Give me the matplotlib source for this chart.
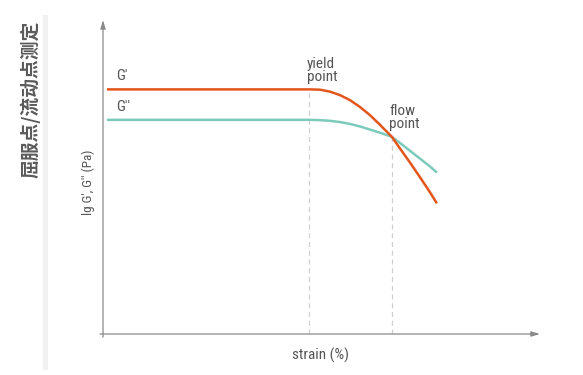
import matplotlib
matplotlib.use("Agg")
import matplotlib.pyplot as plt
from matplotlib.patches import Rectangle

# strain axis runs 0..100, modulus axis 0..100 (arbitrary log units)
strain_g1 = [0.9, 40.5, 47.4, 49.7, 51.9, 54.2, 56.5, 58.8, 61.1, 63.4, 66.1,
             68.0, 70.3, 72.5, 74.8, 76.4]
g_storage = [77.9, 77.9, 77.9, 77.8, 77.2, 76.1, 74.5, 72.3, 69.7, 66.6, 62.8,
             59.0, 54.5, 50.0, 45.2, 41.6]

strain_g2 = [0.9, 40.5, 47.4, 49.7, 51.9, 54.2, 56.5, 58.8, 61.1, 63.4, 66.1,
             68.0, 70.3, 72.5, 74.8, 76.4]
g_loss = [68.2, 68.2, 68.2, 68.1, 67.9, 67.5, 66.9, 66.1, 65.1, 64.1, 62.8,
          60.8, 58.3, 55.9, 53.4, 51.4]

yield_strain, yield_g = 47.1, 77.9
flow_strain, flow_g = 66.1, 62.8

W, H = 583, 375
TXT = "#555555"
AX = "#8a8a8a"
font = ["Roboto Condensed", "Liberation Sans Narrow", "Roboto", "DejaVu Sans"]
plt.rcParams["font.family"] = font

fig = plt.figure(figsize=(W / 100, H / 100), dpi=100)
fig.patch.set_facecolor("white")

# side title and grey strip
fig.text(30 / W, 1 - 21 / H, "屈服点/流动点测定", rotation=90, ha="center", va="top",
         fontsize=13.5, color="#5a5a5a", fontweight="bold",
         family=["Noto Sans CJK SC", "DejaVu Sans"])
fig.patches.append(Rectangle((43 / W, 1 - 370 / H), 5 / W, 355 / H,
                             transform=fig.transFigure, color="#f1f1f1", lw=0))

x0, x1, y0, y1 = 103, 540, 334, 20
ax = fig.add_axes([x0 / W, 1 - y0 / H, (x1 - x0) / W, (y0 - y1) / H])
ax.set_xlim(0, 100)
ax.set_ylim(0, 100)
for s in ax.spines.values():
    s.set_visible(False)
ax.set_xticks([])
ax.set_yticks([])
ax.patch.set_alpha(0)

# axes with arrows
arrow = dict(arrowstyle="-|>,head_length=0.5,head_width=0.15", color=AX, lw=0.9,
             shrinkA=0, shrinkB=0)
ax.annotate("", xy=(0, 100), xytext=(0, -1), arrowprops=arrow, annotation_clip=False)
ax.annotate("", xy=(100, 0), xytext=(-0.7, 0), arrowprops=arrow, annotation_clip=False)

# dashed markers
ax.plot([yield_strain, yield_strain], [0, yield_g], ls=(0, (4, 3)), color="#d0d0d0", lw=0.9)
ax.plot([flow_strain, flow_strain], [0, flow_g], ls=(0, (4, 3)), color="#d0d0d0", lw=0.9)

ax.plot(strain_g2, g_loss, color="#7ccbba", lw=1.8, solid_capstyle="butt")
ax.plot(strain_g1, g_storage, color="#e2561c", lw=1.8, solid_capstyle="butt")

ax.text(3.0, 80.0, "G'", fontsize=11, color=TXT, ha="left", va="bottom")
ax.text(3.0, 70.2, "G''", fontsize=11, color=TXT, ha="left", va="bottom")
ax.text(46.6, 79.6, "yield\npoint", fontsize=11, color=TXT, ha="left", va="bottom",
        linespacing=0.95)
ax.text(65.5, 64.6, "flow\npoint", fontsize=11, color=TXT, ha="left", va="bottom",
        linespacing=0.95)

fig.text(320 / W, 1 - 355 / H, "strain (%)", ha="center", va="center", fontsize=11, color=TXT)
fig.text(88 / W, 1 - 182 / H, "lg G', G'' (Pa)", ha="center", va="center", rotation=90,
         fontsize=9.5, color=TXT)

fig.savefig("out.png", dpi=100)
